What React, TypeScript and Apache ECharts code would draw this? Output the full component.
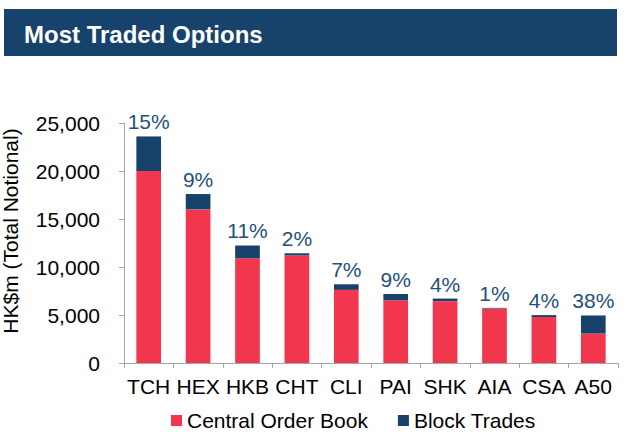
import React, { useEffect, useRef } from "react";
import * as echarts from "echarts";

const categories = ["TCH", "HEX", "HKB", "CHT", "CLI", "PAI", "SHK", "AIA", "CSA", "A50"];
const centralOrderBook = [20000, 16000, 10900, 11200, 7620, 6540, 6440, 5680, 4790, 3070];
const blockTrades = [3600, 1600, 1350, 230, 580, 650, 270, 60, 200, 1880];
const blockPct = ["15%", "9%", "11%", "2%", "7%", "9%", "4%", "1%", "4%", "38%"];
const yTicks = { min: 0, max: 25000, interval: 5000 };

const RED = "#f2364e";
const NAVY = "#16426b";
const FONT = "Liberation Sans, Arial, sans-serif";

export default function App() {
  const ref = useRef<HTMLDivElement>(null);
  useEffect(() => {
    if (!ref.current) return;
    const chart = echarts.init(ref.current, undefined, { renderer: "svg" });
    chart.setOption({
      animation: false,
      textStyle: { fontFamily: FONT },
      graphic: [
        {
          type: "rect",
          shape: { x: 4, y: 9, width: 613, height: 47 },
          style: { fill: NAVY },
        },
        {
          type: "text",
          x: 24,
          y: 34,
          style: {
            text: "Most Traded Options",
            fill: "#ffffff",
            font: `bold 24px ${FONT}`,
            verticalAlign: "middle",
          },
        },
        {
          type: "text",
          x: 10,
          y: 231,
          rotation: Math.PI / 2,
          style: {
            text: "HK$m (Total Notional)",
            fill: "#000000",
            font: `21px ${FONT}`,
            align: "center",
            verticalAlign: "middle",
          },
        },
      ],
      grid: { left: 124, right: 12, top: 123, bottom: 75 },
      legend: {
        top: 410,
        left: 171,
        padding: 0,
        itemWidth: 11,
        itemHeight: 11,
        itemGap: 30,
        icon: "rect",
        textStyle: { fontSize: 21, color: "#000", fontFamily: FONT },
        data: ["Central Order Book", "Block Trades"],
      },
      xAxis: {
        type: "category",
        data: categories,
        axisLine: { lineStyle: { color: "#a6a6a6" } },
        axisTick: { show: true, length: 5, lineStyle: { color: "#a6a6a6" } },
        axisLabel: { interval: 0, fontSize: 21, color: "#000", margin: 13, fontFamily: FONT },
      },
      yAxis: {
        type: "value",
        min: yTicks.min,
        max: yTicks.max,
        interval: yTicks.interval,
        splitLine: { show: false },
        axisLine: { show: true, lineStyle: { color: "#a6a6a6" } },
        axisTick: { show: true, length: 5, lineStyle: { color: "#a6a6a6" } },
        axisLabel: {
          fontSize: 21,
          color: "#000",
          margin: 24,
          fontFamily: FONT,
          formatter: (v: number) => v.toLocaleString("en-US"),
        },
      },
      series: [
        {
          name: "Central Order Book",
          type: "bar",
          stack: "total",
          data: centralOrderBook,
          barWidth: "50%",
          itemStyle: { color: RED },
        },
        {
          name: "Block Trades",
          type: "bar",
          stack: "total",
          data: blockTrades,
          barWidth: "50%",
          itemStyle: { color: NAVY },
          label: {
            show: true,
            position: "top",
            distance: 4,
            fontSize: 21,
            color: "#22507c",
            fontFamily: FONT,
            formatter: (p: any) => blockPct[p.dataIndex],
          },
        },
      ],
    });
    return () => chart.dispose();
  }, []);
  return (
    <div
      ref={ref}
      style={{ position: "fixed", left: 0, top: 0, width: 630, height: 438, background: "#fff" }}
    />
  );
}
